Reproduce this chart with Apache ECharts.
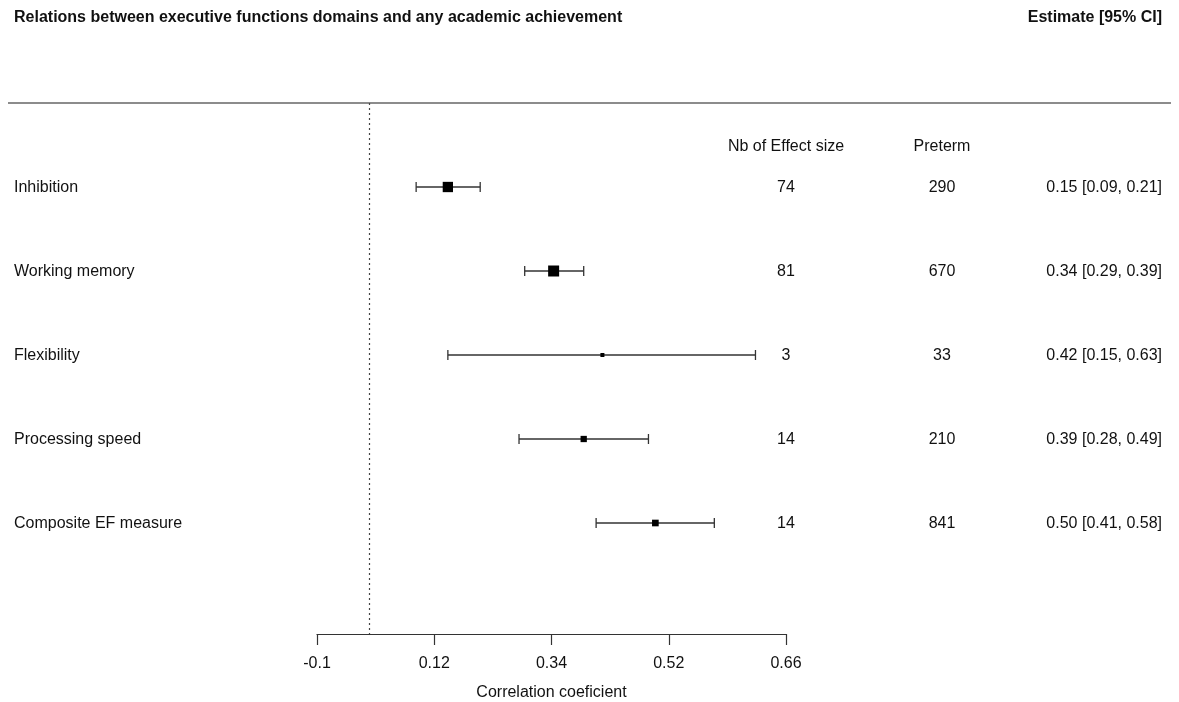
<!DOCTYPE html>
<html>
<head>
<meta charset="utf-8">
<script src="https://cdn.jsdelivr.net/npm/echarts@6/dist/echarts.min.js"></script>
<style>html,body{margin:0;padding:0;background:#fff}#c{width:1179px;height:702px}</style>
</head>
<body>
<div id="c"></div>
<script>
// ---- data ----
const rows = ['Inhibition', 'Working memory', 'Flexibility', 'Processing speed', 'Composite EF measure'];
const estimates = [0.15, 0.34, 0.42, 0.39, 0.50];
const ciLow = [0.09, 0.29, 0.15, 0.28, 0.41];
const ciHigh = [0.21, 0.39, 0.63, 0.49, 0.58];
const nbEffect = [74, 81, 3, 14, 14];
const preterm = [290, 670, 33, 210, 841];
const tickLabels = ['-0.1', '0.12', '0.34', '0.52', '0.66'];
const titleText = 'Relations between executive functions domains and any academic achievement';
const estHeader = 'Estimate [95% CI]';
const colHeaders = ['Nb of Effect size', 'Preterm'];
const axisTitle = 'Correlation coeficient';

// ---- layout / styles ----
const FONT = '"Liberation Sans", Arial, sans-serif';
const Z_MIN = -0.1, Z_MAX = 0.8, Z_STEP = 0.225;
const ROW_MAX = 6.3214;
const COL_NB = 786, COL_PRE = 942, COL_EST = 1162, COL_LABEL = 14;

// weights from CI width on Fisher-z scale (precision-based square size)
const zw = rows.map((r, i) => 1 / (Math.atanh(ciHigh[i]) - Math.atanh(ciLow[i])));
const wMin = Math.min(...zw), wMax = Math.max(...zw);
const sqSize = zw.map(w => 4 + 7 * (w - wMin) / (wMax - wMin));

const data = rows.map((r, i) => [Math.atanh(estimates[i]), Math.atanh(ciLow[i]), Math.atanh(ciHigh[i]), i + 1, i]);

const chart = echarts.init(document.getElementById('c'), null, {renderer: 'canvas'});

chart.setOption({
  animation: false,
  backgroundColor: '#fff',
  grid: {left: 317, right: 1179 - 786, top: 103, bottom: 702 - 634, containLabel: false, outerBoundsMode: 'none'},
  xAxis: {
    type: 'value', min: Z_MIN, max: Z_MAX, interval: Z_STEP, position: 'bottom',
    axisLine: {show: true, onZero: false, lineStyle: {color: '#333', width: 1.2}},
    axisTick: {show: true, inside: false, length: 11, lineStyle: {color: '#333', width: 1.2}},
    axisLabel: {
      show: true, margin: 22, color: '#111', fontSize: 16, fontFamily: FONT,
      formatter: v => tickLabels[Math.round((v - Z_MIN) / Z_STEP)] || ''
    },
    splitLine: {show: false},
    name: axisTitle, nameLocation: 'middle', nameGap: 51,
    nameTextStyle: {color: '#111', fontSize: 16, fontFamily: FONT}
  },
  yAxis: {
    type: 'value', min: 0, max: ROW_MAX, inverse: true, show: false
  },
  series: [{
    type: 'custom',
    clip: false,
    data: data,
    encode: {x: [0, 1, 2], y: 3},
    renderItem: function (params, api) {
      const i = api.value(4);
      const est = api.coord([api.value(0), api.value(3)]);
      const lo = api.coord([api.value(1), api.value(3)]);
      const hi = api.coord([api.value(2), api.value(3)]);
      const y = est[1];
      const s = sqSize[i];
      const ls = {stroke: '#333', lineWidth: 1.3};
      const txt = (x, text, align) => ({
        type: 'text', x: x, y: y + 1,
        style: {text: text, fill: '#111', font: '16px ' + FONT, align: align, verticalAlign: 'middle'}
      });
      return {
        type: 'group',
        children: [
          {type: 'line', shape: {x1: lo[0], y1: y, x2: hi[0], y2: y}, style: ls},
          {type: 'line', shape: {x1: lo[0], y1: y - 5, x2: lo[0], y2: y + 5}, style: ls},
          {type: 'line', shape: {x1: hi[0], y1: y - 5, x2: hi[0], y2: y + 5}, style: ls},
          {type: 'rect', shape: {x: est[0] - s / 2, y: y - s / 2, width: s, height: s}, style: {fill: '#000'}},
          txt(COL_LABEL, rows[i], 'left'),
          txt(COL_NB, String(nbEffect[i]), 'center'),
          txt(COL_PRE, String(preterm[i]), 'center'),
          txt(COL_EST, estimates[i].toFixed(2) + ' [' + ciLow[i].toFixed(2) + ', ' + ciHigh[i].toFixed(2) + ']', 'right')
        ]
      };
    },
    markLine: {
      silent: true, symbol: 'none', label: {show: false},
      lineStyle: {color: '#444', width: 1.2, type: [2, 3]},
      data: [{xAxis: 0}]
    }
  }],
  graphic: [
    {type: 'line', shape: {x1: 8, y1: 103, x2: 1171, y2: 103}, style: {stroke: '#666', lineWidth: 1.5}},
    {type: 'text', x: 14, y: 18, style: {text: titleText, fill: '#111', font: 'bold 16px ' + FONT, align: 'left', verticalAlign: 'middle'}},
    {type: 'text', x: COL_EST, y: 18, style: {text: estHeader, fill: '#111', font: 'bold 16px ' + FONT, align: 'right', verticalAlign: 'middle'}},
    {type: 'text', x: COL_NB, y: 147, style: {text: colHeaders[0], fill: '#111', font: '16px ' + FONT, align: 'center', verticalAlign: 'middle'}},
    {type: 'text', x: COL_PRE, y: 147, style: {text: colHeaders[1], fill: '#111', font: '16px ' + FONT, align: 'center', verticalAlign: 'middle'}}
  ]
});
</script>
</body>
</html>
